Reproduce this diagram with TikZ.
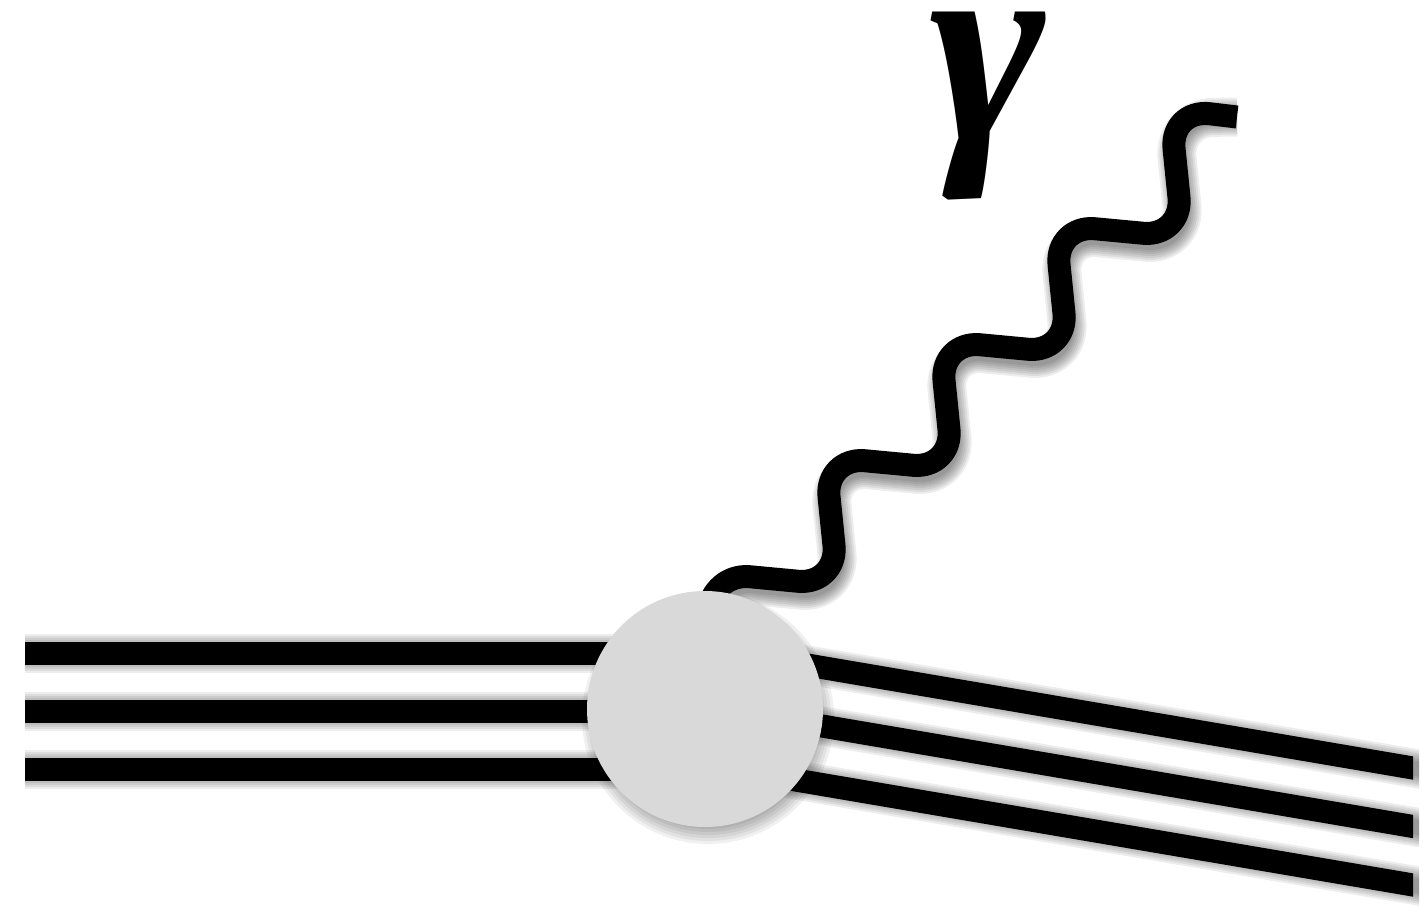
\documentclass[tikz,border=0pt]{standalone}
\usepackage{fontspec}
\newfontfamily\gfont{Liberation Serif}
\usetikzlibrary{calc}
\definecolor{blobgray}{RGB}{217,217,217}
\newcommand{\softshade}[2]{%
  \foreach \ww in {-8,-4,...,16} {%
    \draw[black, opacity=0.07, line width=#1pt+\ww pt, line cap=butt, line join=round, shift={(3,9)}] #2;
  }%
}
\begin{document}
\begin{tikzpicture}[x=1pt,y=-1pt,
  leg/.style={black, line width=23pt, line cap=butt},
  photon/.style={black, line width=23pt, line cap=butt, line join=round, rounded corners=40pt},
  blobstyle/.style={circle, fill=blobgray, minimum size=236pt, inner sep=0pt}]
\useasboundingbox (0,0) rectangle (1424,913);
\coordinate (blobc) at (705,709);
% incoming legs
\coordinate (a1) at (25,653);
\coordinate (a2) at (25,711);
\coordinate (a3) at (25,769);
\foreach \n in {1,2,3} {
  \softshade{23}{(a\n) -- (a\n -| blobc)}
  \draw[leg] (a\n) -- (a\n -| blobc);
}
% outgoing legs
\coordinate (b1s) at (705,647.6);
\coordinate (b2s) at (705,706.1);
\coordinate (b3s) at (705,764.6);
\coordinate (b1) at (1430,770.9);
\coordinate (b2) at (1430,829.4);
\coordinate (b3) at (1430,887.9);
\begin{scope}
\clip (0,0) rectangle (1419,913);
\foreach \n in {1,2,3} {
  \softshade{23}{(b\n s) -- (b\n)}
}
\end{scope}
\begin{scope}
\clip (0,0) rectangle (1413,913);
\foreach \n in {1,2,3} {
  \draw[leg] (b\n s) -- (b\n);
}
\end{scope}
% photon
\coordinate (pend) at (1237,117);
\softshade{23}{[rounded corners=40pt] (blobc) -- (710,573) -- (838,585) -- (825,457) -- (953,469) -- (940,341) -- (1068,353) -- (1055,225) -- (1183,237) -- (1170,109) -- (pend)}
\draw[photon] (blobc) -- (710,573) -- (838,585) -- (825,457) -- (953,469) -- (940,341) -- (1068,353) -- (1055,225) -- (1183,237) -- (1170,109) -- (pend);
% blob
\foreach \rr in {108,111,...,126} {
  \fill[black, opacity=0.06] ($(blobc)+(3,9)$) circle (\rr);
}
\node[blobstyle] (blob) at (blobc) {};
% label
\node[font=\gfont\bfseries\itshape\fontsize{280}{300}\selectfont, inner sep=0pt] (gam) at (988,106) {γ};
\end{tikzpicture}
\end{document}
